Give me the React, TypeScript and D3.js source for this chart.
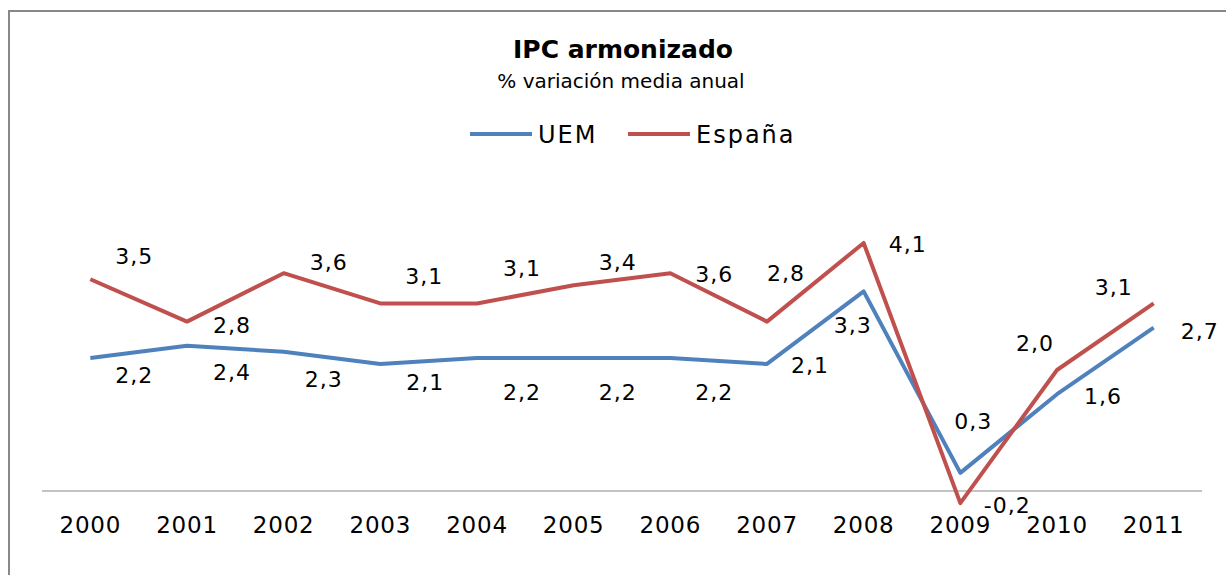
import { useEffect, useRef } from "react"
import * as d3 from "d3"

const years = ["2000", "2001", "2002", "2003", "2004", "2005", "2006", "2007", "2008", "2009", "2010", "2011"]
const uem = [2.2, 2.4, 2.3, 2.1, 2.2, 2.2, 2.2, 2.1, 3.3, 0.3, 1.6, 2.7]
const espana = [3.5, 2.8, 3.6, 3.1, 3.1, 3.4, 3.6, 2.8, 4.1, -0.2, 2.0, 3.1]

// label nudges (px from the point) as placed in the original sheet
const uemNudge = [[44, 17], [45, 26], [40, 27], [45, 18], [45, 34], [44, 34], [44, 34], [43, 1], [-11, 34], [13, -52], [46, 2], [46, 4]]
const espNudge = [[44, -23], [45, 4], [45, -11], [44, -27], [45, -35], [44, -23], [44, 1], [19, -48], [44, 1], [47, 2], [-22, -27], [-40, -16]]

const BLUE = "#4F81BD"
const RED = "#C0504D"
const FONT = "'DejaVu Sans', sans-serif"

const App = () => {
  const svgRef = useRef<SVGSVGElement>(null)

  useEffect(() => {
    const width = 1226
    const height = 575
    const svg = d3.select(svgRef.current)
    svg.selectAll("*").remove()

    // chart frame (right and bottom edges run past the picture)
    svg.append("rect")
      .attr("x", 9).attr("y", 11)
      .attr("width", width + 20).attr("height", height + 20)
      .attr("fill", "white")
      .attr("stroke", "#888").attr("stroke-width", 2)

    const x = d3.scalePoint<string>()
      .domain(years)
      .range([42, 1202])
      .padding(0.5)

    const y = d3.scaleLinear()
      .domain([0, 4.5])
      .range([491, 218.75])

    // title
    svg.append("text")
      .attr("x", 623).attr("y", 58)
      .attr("text-anchor", "middle")
      .attr("font-family", FONT).attr("font-weight", "bold").attr("font-size", 25)
      .attr("fill", "#000")
      .text("IPC armonizado")

    svg.append("text")
      .attr("x", 621).attr("y", 88)
      .attr("text-anchor", "middle")
      .attr("font-family", FONT).attr("font-size", 20)
      .attr("fill", "#000")
      .text("% variación media anual")

    // legend
    const legend = [
      { name: "UEM", color: BLUE, x0: 470 },
      { name: "España", color: RED, x0: 628 },
    ]
    const lg = svg.append("g")
    legend.forEach(l => {
      lg.append("line")
        .attr("x1", l.x0).attr("x2", l.x0 + 62)
        .attr("y1", 134).attr("y2", 134)
        .attr("stroke", l.color).attr("stroke-width", 4)
      lg.append("text")
        .attr("x", l.x0 + 68).attr("y", 143)
        .attr("font-family", FONT).attr("font-size", 24)
        .attr("letter-spacing", 2)
        .attr("fill", "#000")
        .text(l.name)
    })

    // x axis: plain line + year labels
    svg.append("line")
      .attr("x1", 42).attr("x2", 1202)
      .attr("y1", y(0)).attr("y2", y(0))
      .attr("stroke", "#888").attr("stroke-width", 1)

    svg.append("g")
      .selectAll("text")
      .data(years)
      .join("text")
      .attr("x", d => x(d)!)
      .attr("y", 533)
      .attr("text-anchor", "middle")
      .attr("font-family", FONT).attr("font-size", 23)
      .attr("letter-spacing", 0.8)
      .attr("fill", "#000")
      .text(d => d)

    const series = [
      { values: uem, color: BLUE, nudge: uemNudge },
      { values: espana, color: RED, nudge: espNudge },
    ]

    const line = d3.line<number>()
      .x((_, i) => x(years[i])!)
      .y(d => y(d))

    series.forEach(s => {
      svg.append("path")
        .datum(s.values)
        .attr("fill", "none")
        .attr("stroke", s.color)
        .attr("stroke-width", 4)
        .attr("stroke-linejoin", "round")
        .attr("d", line)
    })

    const fmt = (v: number) => v.toFixed(1).replace(".", ",")

    series.forEach(s => {
      svg.append("g")
        .selectAll("text")
        .data(s.values)
        .join("text")
        .attr("x", (_, i) => x(years[i])! + s.nudge[i][0])
        .attr("y", (d, i) => y(d) + s.nudge[i][1])
        .attr("dy", "0.35em")
        .attr("text-anchor", "middle")
        .attr("font-family", FONT).attr("font-size", 22)
        .attr("letter-spacing", 1)
        .attr("fill", "#000")
        .text(d => fmt(d))
    })
  }, [])

  return (
    <div style={{ position: "absolute", left: 0, top: 0 }}>
      <svg ref={svgRef} width={1226} height={575} style={{ display: "block" }} />
    </div>
  )
}

export default App
